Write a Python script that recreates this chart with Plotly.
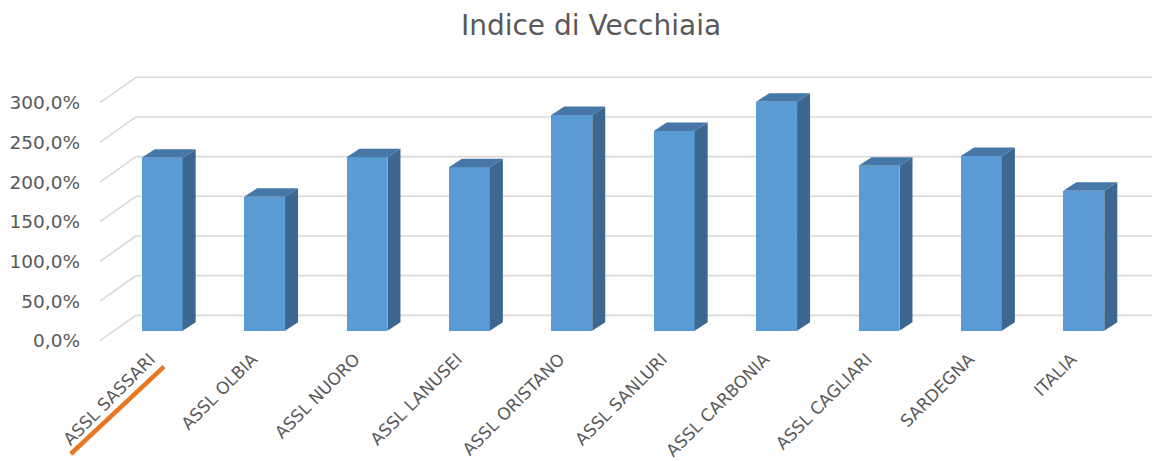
import plotly.graph_objects as go

# ---------------- data ----------------
categories = ["ASSL SASSARI", "ASSL OLBIA", "ASSL NUORO", "ASSL LANUSEI", "ASSL ORISTANO",
              "ASSL SANLURI", "ASSL CARBONIA", "ASSL CAGLIARI", "SARDEGNA", "ITALIA"]
values = [218.0, 168.9, 218.6, 206.0, 271.9, 251.7, 288.6, 208.0, 220.2, 176.5]
tick_values = [0, 50, 100, 150, 200, 250, 300]
tick_labels = ["0,0%", "50,0%", "100,0%", "150,0%", "200,0%", "250,0%", "300,0%"]
title_text = "Indice di Vecchiaia"

# ---------------- styling / geometry ----------------
W, H = 1152, 461
ML, MR, MT, MB = 95, 0, 60, 116
X_RANGE = [-0.656, 9.666]
Y_RANGE = [-18.0, 341.2]
BAR_W = 0.4
DEPTH_DX = 0.127      # 3D depth offset (x units)
DEPTH_DY = 10.7       # 3D depth offset (y units)
BACK_DY = 19.4        # back wall offset (y units)
BACK_X0 = -0.256      # back wall left edge (x units)
FRONT_DY = -12.6      # floor front edge offset (y units)
FRONT_X0 = -0.607     # floor front left (x units)

FRONT_COL = "#5B9BD5"
SIDE_COL = "#3B6790"
TOP_COL = "#4677A7"
GRID_COL = "#D9D9D9"
TEXT_COL = "#595959"
FONT = "DejaVu Sans"

x_idx = list(range(len(categories)))

fig = go.Figure()
fig.add_trace(go.Bar(
    x=x_idx, y=values, width=BAR_W,
    marker=dict(color=FRONT_COL, line=dict(width=0)),
    hoverinfo="skip", showlegend=False,
))

shapes = []
# gridlines: back wall + floor diagonal
for v in tick_values:
    shapes.append(dict(type="line", xref="x", yref="y", layer="below",
                       x0=BACK_X0, y0=v + BACK_DY, x1=X_RANGE[1], y1=v + BACK_DY,
                       line=dict(color=GRID_COL, width=1.6)))
    shapes.append(dict(type="line", xref="x", yref="y", layer="below",
                       x0=FRONT_X0, y0=v + FRONT_DY, x1=BACK_X0, y1=v + BACK_DY,
                       line=dict(color=GRID_COL, width=1.6)))

# 3D side and top faces of bars
for i, v in zip(x_idx, values):
    xl, xr = i - BAR_W / 2, i + BAR_W / 2
    side = (f"M{xr},0 L{xr + DEPTH_DX},{DEPTH_DY} L{xr + DEPTH_DX},{v + DEPTH_DY} "
            f"L{xr},{v} Z")
    top = (f"M{xl},{v} L{xl + DEPTH_DX},{v + DEPTH_DY} L{xr + DEPTH_DX},{v + DEPTH_DY} "
           f"L{xr},{v} Z")
    shapes.append(dict(type="path", xref="x", yref="y", layer="above", path=side,
                       fillcolor=SIDE_COL, line=dict(width=0)))
    shapes.append(dict(type="path", xref="x", yref="y", layer="above", path=top,
                       fillcolor=TOP_COL, line=dict(width=0)))

# orange highlight stroke under first label (pixel geometry -> paper coords)
pw, ph = W - ML - MR, H - MT - MB
def px(xp):
    return (xp - ML) / pw
def py(yp):
    return (H - MB - yp) / ph
shapes.append(dict(type="line", xref="paper", yref="paper",
                   x0=px(70.7), y0=py(454), x1=px(164), y1=py(366.7),
                   line=dict(color="#E87722", width=4.5)))

fig.update_layout(
    width=W, height=H,
    margin=dict(l=ML, r=MR, t=MT, b=MB, autoexpand=False),
    paper_bgcolor="white", plot_bgcolor="white",
    title=dict(text=title_text, x=591 / W, xanchor="center", y=1 - 25 / H, yanchor="middle",
               font=dict(family=FONT, size=28, color=TEXT_COL)),
    shapes=shapes,
    xaxis=dict(range=X_RANGE, tickvals=x_idx, ticktext=categories, tickangle=-45,
               showgrid=False, zeroline=False, showline=False, ticks="",
               tickfont=dict(family=FONT, size=17, color=TEXT_COL),
               ticklabelstandoff=0, ticklabelshift=-12),
    yaxis=dict(range=Y_RANGE, tickvals=[v + FRONT_DY for v in tick_values], ticktext=tick_labels,
               showgrid=False, zeroline=False, showline=False, ticks="",
               tickfont=dict(family=FONT, size=18.5, color=TEXT_COL),
               ticklabelstandoff=14),
    bargap=0,
)

fig.write_html("out.html", config={"displayModeBar": False},
               post_script="document.body.style.margin='0';document.body.style.padding='0';")
